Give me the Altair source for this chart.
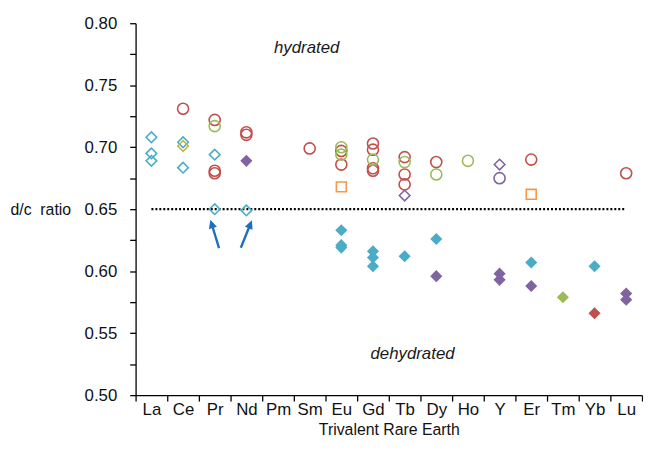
import altair as alt
import pandas as pd

# ---------------- data ----------------
elements = ["La", "Ce", "Pr", "Nd", "Pm", "Sm", "Eu", "Gd", "Tb", "Dy",
            "Ho", "Y", "Er", "Tm", "Yb", "Lu"]
y_ticks = [0.50, 0.525, 0.55, 0.575, 0.60, 0.625, 0.65, 0.675, 0.70,
           0.725, 0.75, 0.775, 0.80]

red_circle_el = ["Ce", "Pr", "Pr", "Pr", "Nd", "Nd", "Sm", "Eu", "Eu", "Gd", "Gd",
                 "Gd", "Gd", "Tb", "Tb", "Tb", "Dy", "Er", "Lu"]
red_circle_val = [0.731, 0.722, 0.681, 0.679, 0.712, 0.710, 0.699, 0.697, 0.686,
                  0.703, 0.698, 0.683, 0.681, 0.692, 0.678, 0.670, 0.688, 0.690, 0.679]

green_circle_el = ["Pr", "Eu", "Eu", "Gd", "Tb", "Dy", "Ho"]
green_circle_val = [0.717, 0.700, 0.694, 0.690, 0.688, 0.678, 0.689]

purple_circle_el = ["Y"]
purple_circle_val = [0.675]

cyan_diamond_el = ["La", "La", "La", "Ce", "Ce", "Pr", "Pr", "Nd"]
cyan_diamond_val = [0.708, 0.695, 0.689, 0.704, 0.6835, 0.694, 0.650, 0.649]

olive_diamond_el = ["Ce"]
olive_diamond_val = [0.701]

purple_diamond_el = ["Tb", "Y"]
purple_diamond_val = [0.661, 0.686]

orange_square_el = ["Eu", "Er"]
orange_square_val = [0.668, 0.662]

cyan_filled_el = ["Eu", "Eu", "Eu", "Gd", "Gd", "Gd", "Tb", "Dy", "Er", "Yb"]
cyan_filled_val = [0.633, 0.621, 0.619, 0.616, 0.611, 0.604, 0.612, 0.626, 0.607, 0.604]

purple_filled_el = ["Nd", "Dy", "Y", "Y", "Er", "Lu", "Lu"]
purple_filled_val = [0.689, 0.596, 0.598, 0.593, 0.588, 0.582, 0.577]

green_filled_el = ["Tm"]
green_filled_val = [0.579]

red_filled_el = ["Yb"]
red_filled_val = [0.566]

ref_el = ["La", "Lu"]
ref_val = [0.65, 0.65]

arrow_el = ["Pr", "Nd"]
arrow_val = [0.630, 0.630]
arrow_angle = [343, 22]

note_text = ["hydrated", "dehydrated"]
note_el = ["Sm", "Tb"]
note_val = [0.780, 0.533]

# ---------------- styles ----------------
# name, elements, values, color, shape, filled, size
series = [
    ("red_circle", red_circle_el, red_circle_val, "#c0504d", "circle", False, 125),
    ("green_circle", green_circle_el, green_circle_val, "#9bbb59", "circle", False, 125),
    ("purple_circle", purple_circle_el, purple_circle_val, "#8064a2", "circle", False, 125),
    ("cyan_diamond", cyan_diamond_el, cyan_diamond_val, "#4bacc6", "diamond", False, 115),
    ("olive_diamond", olive_diamond_el, olive_diamond_val, "#bdb845", "diamond", False, 115),
    ("purple_diamond", purple_diamond_el, purple_diamond_val, "#8064a2", "diamond", False, 115),
    ("orange_square", orange_square_el, orange_square_val, "#f79646", "square", False, 100),
    ("cyan_filled", cyan_filled_el, cyan_filled_val, "#4bacc6", "diamond", True, 150),
    ("purple_filled", purple_filled_el, purple_filled_val, "#8064a2", "diamond", True, 150),
    ("green_filled", green_filled_el, green_filled_val, "#9bbb59", "diamond", True, 150),
    ("red_filled", red_filled_el, red_filled_val, "#c0504d", "diamond", True, 150),
]

rows = []
for name, els, vals, color, shape, filled, size in series:
    for e, v in zip(els, vals):
        rows.append({"element": e, "value": v, "series": name,
                     "filled": filled, "size": size})
df = pd.DataFrame(rows)

names = [s[0] for s in series]
colors = [s[3] for s in series]
shapes = [s[4] for s in series]

FONT = "Liberation Sans"
W, H = 512, 376

x_scale = alt.Scale(type="band", domain=elements, paddingInner=0, paddingOuter=0)
y_scale = alt.Scale(domain=[0.5, 0.8], nice=False, zero=False)

x_enc = alt.X("element:N", scale=x_scale, sort=elements,
              axis=alt.Axis(title="Trivalent Rare Earth", tickBand="extent", labelAngle=0,
                            tickSize=6, labelPadding=1, titlePadding=4,
                            labelFontSize=17, titleFontSize=16, titleFontWeight="normal",
                            domainColor="#000", tickColor="#000", domainWidth=1.3,
                            tickWidth=1.3, labelColor="#111", titleColor="#111",
                            labelFont=FONT, titleFont=FONT))
y_enc = alt.Y("value:Q", scale=y_scale,
              axis=alt.Axis(title="d/c\u00a0 ratio", values=y_ticks,
                            labelExpr="round(datum.value*1000) % 50 == 0 ? format(datum.value, '.2f') : ''",
                            tickSize=6, labelPadding=13, labelFontSize=17,
                            titleFontSize=16, titleFontWeight="normal", titleAngle=0,
                            titleAlign="left", titleBaseline="middle",
                            titleX=-127, titleY=H / 2,
                            domainColor="#000", tickColor="#000", domainWidth=1.3,
                            tickWidth=1.3, labelColor="#111", titleColor="#111",
                            labelFont=FONT, titleFont=FONT, grid=False))

color_enc = alt.Color("series:N", scale=alt.Scale(domain=names, range=colors), legend=None)
shape_enc = alt.Shape("series:N", scale=alt.Scale(domain=names, range=shapes), legend=None)
size_enc = alt.Size("size:Q", scale=None, legend=None)

base = alt.Chart(df)

open_pts = base.transform_filter("!datum.filled").mark_point(
    filled=False, strokeWidth=1.6, opacity=1).encode(
    x=x_enc, y=y_enc, color=color_enc, shape=shape_enc, size=size_enc)

filled_pts = base.transform_filter("datum.filled").mark_point(
    filled=True, opacity=1).encode(
    x=x_enc, y=y_enc, color=color_enc, shape=shape_enc, size=size_enc)

ref_df = pd.DataFrame({"element": ref_el, "value": ref_val})
ref_line = alt.Chart(ref_df).mark_line(color="#000", strokeWidth=2.3, strokeDash=[2, 2]).encode(
    x=x_enc, y=y_enc)

arrow_df = pd.DataFrame({"element": arrow_el, "value": arrow_val, "angle": arrow_angle})
arrow_path = "M-0.08,1 L0.08,1 L0.08,-0.42 L0.28,-0.42 L0,-1 L-0.28,-0.42 L-0.08,-0.42 Z"
arrows = []
for el, dx in zip(arrow_el, [4, -5]):
    arrows.append(
        alt.Chart(arrow_df).transform_filter(alt.datum.element == el).mark_point(
            shape=arrow_path, filled=True, color="#1f6fbf", opacity=1, size=900, dx=dx
        ).encode(x=x_enc, y=y_enc, angle=alt.Angle("angle:Q", scale=None))
    )

note_df = pd.DataFrame({"text": note_text, "element": note_el, "value": note_val})
notes = []
for t, dx in zip(note_text, [-3, 8]):
    notes.append(
        alt.Chart(note_df).transform_filter(alt.datum.text == t).mark_text(
            font=FONT, fontSize=17, fontStyle="italic", color="#1a1a1a",
            align="center", baseline="middle", dx=dx
        ).encode(x=x_enc, y=y_enc, text="text:N")
    )

chart = alt.layer(ref_line, open_pts, filled_pts, *arrows, *notes).properties(
    width=W, height=H,
    padding={"left": 2, "top": 4, "right": 0, "bottom": 4},
    background="white",
).configure_view(stroke=None)

chart.save("out.html", embed_options={"renderer": "svg", "actions": False})
